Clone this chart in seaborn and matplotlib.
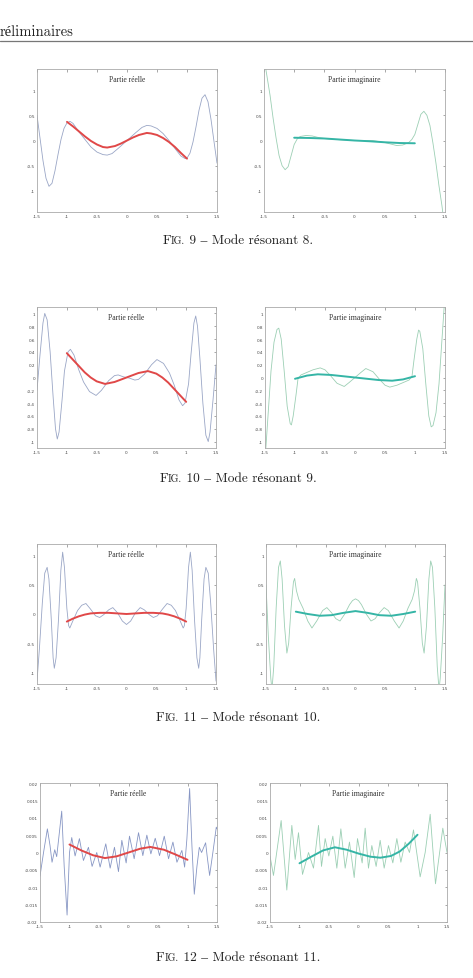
import numpy as np
import pandas as pd
import seaborn as sns
import matplotlib.pyplot as plt
from matplotlib.lines import Line2D
from matplotlib.ticker import FuncFormatter

# ---- Fig. 9 : mode résonant 8 ----
m8_re_x = [-1.5, -1.45, -1.4, -1.35, -1.3, -1.25, -1.2, -1.15, -1.1, -1.05, -1.0, -0.95, -0.9, -0.8, -0.7,
           -0.6, -0.5, -0.4, -0.33, -0.25, -0.15, 0.0, 0.15, 0.25, 0.33, 0.4, 0.5, 0.6, 0.7, 0.8, 0.9,
           0.97, 1.0, 1.05, 1.1, 1.15, 1.2, 1.25, 1.3, 1.35, 1.4, 1.45, 1.5]
m8_re_y = [0.5, 0.05, -0.4, -0.75, -0.91, -0.85, -0.6, -0.28, 0.02, 0.24, 0.35, 0.38, 0.34, 0.17, 0.02,
           -0.13, -0.23, -0.28, -0.29, -0.26, -0.16, 0.0, 0.16, 0.26, 0.30, 0.29, 0.24, 0.14, 0.0, -0.16, -0.31,
           -0.36, -0.35, -0.25, -0.03, 0.27, 0.6, 0.84, 0.91, 0.77, 0.42, -0.02, -0.45]
m8_re_fit_x = [-1.0, -0.9, -0.8, -0.7, -0.6, -0.5, -0.4, -0.33, -0.2, -0.1, 0.0, 0.1, 0.2, 0.33, 0.4,
               0.5, 0.6, 0.7, 0.8, 0.9, 1.0]
m8_re_fit_y = [0.37, 0.28, 0.18, 0.08, -0.01, -0.08, -0.13, -0.14, -0.11, -0.06, 0.0, 0.06, 0.11, 0.15, 0.14,
               0.11, 0.05, -0.03, -0.13, -0.25, -0.36]
m8_im_x = [-1.5, -1.47, -1.4, -1.35, -1.3, -1.25, -1.2, -1.15, -1.1, -1.05, -1.0, -0.95, -0.9, -0.8, -0.7,
           -0.6, -0.5, -0.3, 0.0, 0.2, 0.3, 0.5, 0.6, 0.7, 0.8, 0.9, 0.95, 1.0, 1.05, 1.1, 1.15, 1.2,
           1.25, 1.3, 1.35, 1.4, 1.45, 1.5]
m8_im_y = [1.8, 1.42, 0.9, 0.45, 0.05, -0.3, -0.5, -0.58, -0.52, -0.3, -0.08, 0.03, 0.08, 0.1, 0.09,
           0.06, 0.04, 0.02, 0.0, 0.0, 0.0, -0.04, -0.07, -0.1, -0.09, -0.04, 0.02, 0.12, 0.32, 0.52, 0.58, 0.5,
           0.3, -0.05, -0.45, -0.9, -1.3, -1.8]
m8_im_fit_x = [-1.0, -0.75, -0.5, -0.25, 0.0, 0.25, 0.5, 0.75, 1.0]
m8_im_fit_y = [0.055, 0.05, 0.04, 0.02, 0.0, -0.015, -0.035, -0.05, -0.055]

# ---- Fig. 10 : mode résonant 9 ----
m9_re_x = [-1.5, -1.45, -1.4, -1.37, -1.33, -1.28, -1.23, -1.19, -1.16, -1.13, -1.08, -1.04, -0.98, -0.94,
           -0.88, -0.8, -0.72, -0.62, -0.51, -0.42, -0.3, -0.2, -0.14, -0.05, 0.0, 0.05, 0.14, 0.2, 0.3,
           0.42, 0.51, 0.62, 0.72, 0.8, 0.88, 0.94, 0.98, 1.04, 1.08, 1.13, 1.16, 1.19, 1.23, 1.28, 1.33,
           1.37, 1.4, 1.45, 1.5]
m9_re_y = [-0.2, 0.35, 0.85, 1.0, 0.9, 0.4, -0.3, -0.8, -0.96, -0.85, -0.35, 0.1, 0.4, 0.44,
           0.35, 0.12, -0.07, -0.22, -0.28, -0.2, -0.05, 0.03, 0.04, 0.01, 0.0, -0.01, -0.04, -0.03, 0.05,
           0.2, 0.28, 0.22, 0.07, -0.12, -0.35, -0.44, -0.4, -0.1, 0.35, 0.85, 0.96, 0.8, 0.3, -0.4, -0.9,
           -1.0, -0.85, -0.35, 0.2]
m9_re_fit_x = [-1.0, -0.9, -0.8, -0.7, -0.6, -0.5, -0.36, -0.2, 0.0, 0.2, 0.36, 0.5, 0.6, 0.7, 0.8, 0.9, 1.0]
m9_re_fit_y = [0.38, 0.28, 0.18, 0.08, 0.0, -0.06, -0.1, -0.07, 0.0, 0.07, 0.1, 0.06, 0.0, -0.08, -0.18,
               -0.28, -0.38]
m9_im_x = [-1.5, -1.45, -1.4, -1.35, -1.3, -1.27, -1.23, -1.18, -1.13, -1.08, -1.06, -1.03, -0.98, -0.95,
           -0.9, -0.8, -0.7, -0.58, -0.5, -0.4, -0.3, -0.18, -0.1, 0.0, 0.1, 0.18, 0.3, 0.4, 0.5, 0.58,
           0.7, 0.8, 0.9, 0.95, 0.98, 1.03, 1.06, 1.08, 1.13, 1.18, 1.23, 1.27, 1.3, 1.35, 1.4, 1.45, 1.5]
m9_im_y = [-1.3, -0.6, 0.1, 0.55, 0.75, 0.77, 0.6, 0.1, -0.45, -0.72, -0.74, -0.6, -0.25, -0.02,
           0.04, 0.08, 0.12, 0.15, 0.12, 0.02, -0.09, -0.14, -0.08, 0.0, 0.08, 0.14, 0.09, -0.02, -0.12, -0.15,
           -0.12, -0.08, -0.04, 0.02, 0.25, 0.6, 0.74, 0.72, 0.45, -0.1, -0.6, -0.77, -0.75, -0.55, -0.1, 0.6, 1.3]
m9_im_fit_x = [-1.0, -0.8, -0.62, -0.4, -0.2, 0.0, 0.2, 0.4, 0.62, 0.8, 1.0]
m9_im_fit_y = [-0.02, 0.03, 0.05, 0.04, 0.02, 0.0, -0.02, -0.04, -0.05, -0.03, 0.02]

# ---- Fig. 11 : mode résonant 10 ----
m10_re_x = [-1.5, -1.46, -1.41, -1.37, -1.33, -1.3, -1.26, -1.23, -1.21, -1.18, -1.14, -1.1, -1.07, -1.04,
            -1.0, -0.97, -0.95, -0.9, -0.82, -0.75, -0.68, -0.6, -0.52, -0.45, -0.38, -0.3, -0.23, -0.15,
            -0.07, 0.0, 0.07, 0.15, 0.23, 0.3, 0.38, 0.45, 0.52, 0.6, 0.68, 0.75, 0.82, 0.9, 0.95, 0.97,
            1.0, 1.04, 1.07, 1.1, 1.14, 1.18, 1.21, 1.23, 1.26, 1.3, 1.33, 1.37, 1.41, 1.46, 1.5]
m10_re_y = [-1.15, -0.6, 0.2, 0.7, 0.8, 0.6, -0.1, -0.75, -0.93, -0.75, -0.1, 0.75, 1.06, 0.8,
            0.1, -0.2, -0.24, -0.12, 0.06, 0.15, 0.18, 0.08, -0.03, -0.06, -0.01, 0.07, 0.11, 0.02,
            -0.12, -0.18, -0.12, 0.02, 0.11, 0.07, -0.01, -0.06, -0.03, 0.08, 0.18, 0.15, 0.06, -0.12, -0.24, -0.2,
            0.1, 0.8, 1.06, 0.75, -0.1, -0.75, -0.93, -0.75, -0.1, 0.6, 0.8, 0.7, 0.2, -0.6, -1.15]
m10_re_fit_x = [-1.0, -0.9, -0.8, -0.7, -0.6, -0.45, -0.3, -0.15, 0.0, 0.15, 0.3, 0.45, 0.6, 0.7, 0.8, 0.9, 1.0]
m10_re_fit_y = [-0.13, -0.08, -0.04, -0.01, 0.01, 0.02, 0.02, 0.01, 0.0, 0.01, 0.02, 0.02, 0.01, -0.01,
                -0.04, -0.08, -0.13]
m10_im_x = [-1.5, -1.46, -1.42, -1.4, -1.37, -1.33, -1.29, -1.26, -1.23, -1.19, -1.15, -1.12, -1.08, -1.04,
            -1.02, -0.99, -0.95, -0.88, -0.8, -0.73, -0.65, -0.55, -0.48, -0.4, -0.33, -0.26, -0.18, -0.1,
            -0.05, 0.0, 0.05, 0.1, 0.18, 0.26, 0.33, 0.4, 0.48, 0.55, 0.65, 0.73, 0.8, 0.88, 0.95, 0.99,
            1.02, 1.04, 1.08, 1.12, 1.15, 1.19, 1.23, 1.26, 1.29, 1.33, 1.37, 1.4, 1.42, 1.46, 1.5]
m10_im_y = [0.5, -0.4, -1.1, -1.3, -0.9, 0.1, 0.8, 0.91, 0.6, -0.2, -0.67, -0.5, 0.1, 0.55,
            0.61, 0.4, 0.25, 0.1, -0.12, -0.24, -0.12, 0.06, 0.11, 0.02, -0.08, -0.12, 0.0, 0.16,
            0.23, 0.26, 0.23, 0.16, 0.0, -0.12, -0.08, 0.02, 0.11, 0.06, -0.12, -0.24, -0.12, 0.1, 0.25, 0.4,
            0.61, 0.55, 0.1, -0.5, -0.67, -0.2, 0.6, 0.91, 0.8, 0.1, -0.9, -1.3, -1.1, -0.4, 0.5]
m10_im_fit_x = [-1.0, -0.8, -0.6, -0.4, -0.2, 0.0, 0.2, 0.4, 0.6, 0.8, 1.0]
m10_im_fit_y = [0.04, 0.0, -0.03, -0.02, 0.02, 0.05, 0.02, -0.02, -0.03, 0.0, 0.04]

# ---- Fig. 12 : mode résonant 11 ----
m11_re_x = [-1.5, -1.44, -1.375, -1.33, -1.296, -1.25, -1.217, -1.17, -1.132, -1.09, -1.041, -1.0, -0.962,
            -0.905, -0.832, -0.764, -0.679, -0.617, -0.538, -0.481, -0.385, -0.311, -0.238, -0.17, -0.113,
            -0.04, 0.017, 0.096, 0.17, 0.243, 0.311, 0.379, 0.453, 0.526, 0.606, 0.679, 0.753, 0.821, 0.905,
            0.951, 0.99, 1.036, 1.075, 1.115, 1.16, 1.2, 1.239, 1.307, 1.34, 1.375, 1.43, 1.488, 1.5]
m11_re_y = [-0.0068, 0.0, 0.0068, 0.002, -0.0028, 0.0008, -0.0012, 0.006, 0.0119, -0.004, -0.018, 0.0, 0.0043,
            -0.001, 0.004, -0.0023, 0.0015, -0.004, 0.0, -0.0042, 0.0025, -0.0045, 0.0015, -0.0055, 0.0035,
            -0.003, 0.0047, -0.0018, 0.0057, -0.0009, 0.005, -0.0004, 0.0041, -0.0009, 0.0047, -0.0018, 0.003,
            -0.0028, 0.0006, -0.0042, 0.004, 0.0184, 0.002, -0.012, -0.004, 0.0015, 0.0, 0.0028, -0.002,
            -0.0066, 0.0, 0.0073, 0.0068]
m11_re_fit_x = [-1.0, -0.8, -0.6, -0.4, -0.2, 0.0, 0.2, 0.37, 0.6, 0.8, 1.0]
m11_re_fit_y = [0.0023, 0.0006, -0.0008, -0.0016, -0.0011, 0.0, 0.0011, 0.0016, 0.0008, -0.0006, -0.0021]
m11_im_x = [-1.5, -1.441, -1.311, -1.215, -1.13, -1.073, -1.017, -0.949, -0.847, -0.763, -0.678, -0.627,
            -0.565, -0.503, -0.435, -0.367, -0.299, -0.226, -0.153, -0.073, -0.017, 0.062, 0.113, 0.169,
            0.226, 0.299, 0.367, 0.435, 0.508, 0.582, 0.65, 0.718, 0.791, 0.864, 0.932, 1.045, 1.13, 1.215,
            1.305, 1.429, 1.5]
m11_im_y = [-0.001, -0.0066, 0.0092, -0.0108, 0.0078, -0.002, 0.0057, -0.0063, 0.0, -0.0045, 0.0078, -0.004,
            0.004, -0.001, 0.0047, -0.0045, 0.0068, -0.0045, 0.003, -0.0072, 0.004, -0.003, 0.007, -0.0045,
            0.002, -0.004, 0.0035, -0.0045, 0.002, -0.003, 0.004, -0.0028, 0.003, 0.0, 0.0065, -0.007, 0.0,
            0.011, -0.009, 0.007, 0.0]
m11_im_fit_x = [-1.0, -0.8, -0.6, -0.4, -0.2, 0.0, 0.2, 0.37, 0.55, 0.7, 0.85, 1.0]
m11_im_fit_y = [-0.0031, -0.0012, 0.0006, 0.0015, 0.0008, -0.0003, -0.0012, -0.0015, -0.001, 0.0003,
                0.0025, 0.0051]

fig_numbers = [9, 10, 11, 12]
mode_numbers = [8, 9, 10, 11]
y_limits = [(-1.42, 1.42), (-1.1, 1.1), (-1.2, 1.2), (-0.02, 0.02)]
y_ticks = [[-1, -0.5, 0, 0.5, 1],
           [-1, -0.8, -0.6, -0.4, -0.2, 0, 0.2, 0.4, 0.6, 0.8, 1],
           [-1, -0.5, 0, 0.5, 1],
           [-0.02, -0.015, -0.01, -0.005, 0, 0.005, 0.01, 0.015, 0.02]]
x_ticks = [-1.5, -1, -0.5, 0, 0.5, 1, 1.5]

# pixel boxes (left, top, right, bottom) of each axes
boxes = [[(37, 70, 217, 213), (264, 70, 445, 213)],
         [(37, 308, 216, 449), (265, 308, 445, 449)],
         [(37, 545, 216, 685), (266, 545, 445, 685)],
         [(40, 784, 217, 923), (270, 784, 447, 923)]]
caption_y = [244, 482, 721, 961]

W, H = 473, 979

sns.set_style("white")
plt.rcParams.update({
    'xtick.direction': 'in', 'ytick.direction': 'in',
    'xtick.top': True, 'ytick.right': True,
    'xtick.major.size': 1.8, 'ytick.major.size': 1.8,
    'xtick.major.width': 0.4, 'ytick.major.width': 0.4,
    'xtick.color': '#666666', 'ytick.color': '#666666',
    'xtick.major.pad': 1.5, 'ytick.major.pad': 1.5,
})

fig = plt.figure(figsize=(W / 100, H / 100), dpi=100)

panels = [
    (m8_re_x, m8_re_y, m8_re_fit_x, m8_re_fit_y, m8_im_x, m8_im_y, m8_im_fit_x, m8_im_fit_y),
    (m9_re_x, m9_re_y, m9_re_fit_x, m9_re_fit_y, m9_im_x, m9_im_y, m9_im_fit_x, m9_im_fit_y),
    (m10_re_x, m10_re_y, m10_re_fit_x, m10_re_fit_y, m10_im_x, m10_im_y, m10_im_fit_x, m10_im_fit_y),
    (m11_re_x, m11_re_y, m11_re_fit_x, m11_re_fit_y, m11_im_x, m11_im_y, m11_im_fit_x, m11_im_fit_y),
]

fmt = FuncFormatter(lambda v, p: '%g' % v)

for row, data in enumerate(panels):
    for col in range(2):
        l, t, r, b = boxes[row][col]
        ax = fig.add_axes([l / W, 1 - b / H, (r - l) / W, (b - t) / H])
        xs, ys, fx, fy = data[col * 4:col * 4 + 4]
        if col == 0:
            thin, thick, title = '#9aa6c6', '#e04848', 'Partie réelle'
        else:
            thin, thick, title = '#9ccfb4', '#35b5a6', 'Partie imaginaire'
        if row == 3 and col == 0:
            thin = '#8796c4'
        sns.lineplot(x=xs, y=ys, ax=ax, color=thin, linewidth=0.6)
        sns.lineplot(x=fx, y=fy, ax=ax, color=thick, linewidth=1.4)
        ax.set_xlim(-1.5, 1.5)
        ax.set_ylim(*y_limits[row])
        ax.set_xticks(x_ticks)
        ax.set_yticks(y_ticks[row])
        ax.xaxis.set_major_formatter(fmt)
        ax.yaxis.set_major_formatter(fmt)
        ax.tick_params(labelsize=3, labelcolor='#444444')
        for s in ax.spines.values():
            s.set_color('#aaaaaa')
            s.set_linewidth(0.6)
        ax.text(0.5, 0.96, title, transform=ax.transAxes, ha='center', va='top',
                family='Liberation Serif', fontsize=5.5, color='#333333')

# page header
fig.text(0, 1 - 36 / H, 'réliminaires', ha='left', va='baseline',
         family=['cmr10', 'Liberation Serif'], fontsize=10.5, color='#222222')
fig.add_artist(Line2D([0, 1], [1 - 42 / H, 1 - 42 / H], transform=fig.transFigure,
                      color='#777777', linewidth=0.9))

# captions in small caps
renderer = fig.canvas.get_renderer()
cap_font = ['cmr10', 'Liberation Serif']
for fig_no, mode_no, yb in zip(fig_numbers, mode_numbers, caption_y):
    parts = [('F', 9.6), ('IG.', 7.2), (' %d – Mode résonant %d.' % (fig_no, mode_no), 9.6)]
    texts = [fig.text(0, 1 - yb / H, s, ha='left', va='baseline', family=cap_font,
                      fontsize=fs, color='#222222') for s, fs in parts]
    widths = [t.get_window_extent(renderer).width for t in texts]
    x0 = 238 - sum(widths) / 2
    for t, w in zip(texts, widths):
        t.set_x(x0 / W)
        x0 += w

fig.savefig('out.png', dpi=100)
